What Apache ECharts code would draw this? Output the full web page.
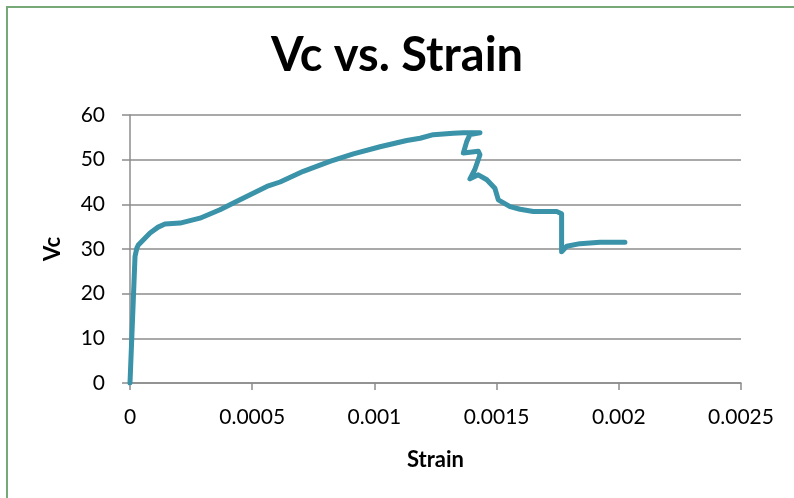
<!DOCTYPE html>
<html>
<head>
<meta charset="utf-8">
<script src="https://cdn.jsdelivr.net/npm/echarts@6/dist/echarts.min.js"></script>
<style>
  html, body { margin: 0; padding: 0; background: #fff; }
  #chart { width: 794px; height: 498px; }
</style>
</head>
<body>
<div id="chart"></div>
<script>
// values (strain, Vc)
const strain = [
  0, 0.0000135, 0.0000205, 0.000028, 0.000034, 0.000048, 0.000082, 0.000115,
  0.000143, 0.000205, 0.000286, 0.000368, 0.00045, 0.00056, 0.000614, 0.000709,
  0.000818, 0.000914, 0.001023, 0.001132, 0.001187, 0.001241, 0.001323, 0.001364,
  0.001432, 0.001391, 0.001378, 0.001364, 0.001425, 0.001432, 0.001411, 0.001391,
  0.001425, 0.00146, 0.001493, 0.001507, 0.001555, 0.001596, 0.00165, 0.001746,
  0.001766, 0.001766, 0.001787, 0.001841, 0.001923, 0.002025
]
const vc = [
  0, 18.6, 28.3, 30.2, 30.9, 31.7, 33.6, 34.9,
  35.6, 35.8, 36.9, 38.8, 41.0, 44.0, 45.0, 47.4,
  49.6, 51.3, 52.9, 54.3, 54.8, 55.6, 55.9, 56.0,
  56.0, 55.6, 54.1, 51.5, 51.9, 51.1, 47.8, 45.7,
  46.6, 45.5, 43.6, 41.0, 39.5, 38.9, 38.4, 38.4,
  37.9, 29.4, 30.6, 31.2, 31.5, 31.5
]
const xTicks = { min: 0, max: 0.0025, step: 0.0005 }
const yTicks = { min: 0, max: 60, step: 10 }

const FONT = 'Lato, "DejaVu Sans", sans-serif'
const chart = echarts.init(document.getElementById('chart'), null, { renderer: 'canvas' })

const points = strain.map((s, i) => [s, vc[i]])

chart.setOption({
  backgroundColor: '#ffffff',
  animation: false,
  title: {
    text: 'Vc vs. Strain',
    left: 'center',
    top: 27,
    textStyle: { fontFamily: FONT, fontSize: 47, fontWeight: 'bold', color: '#000' },
  },
  graphic: [
    {
      type: 'rect',
      shape: { x: 7, y: 7, width: 820, height: 520 },
      style: { fill: 'none', stroke: '#77a877', lineWidth: 2 },
      silent: true,
    },
  ],
  grid: { left: 130, right: 53, top: 115, bottom: 115 },
  xAxis: {
    type: 'value',
    min: xTicks.min,
    max: xTicks.max,
    interval: xTicks.step,
    name: 'Strain',
    nameLocation: 'middle',
    nameGap: 66,
    nameTextStyle: { fontFamily: FONT, fontSize: 22, fontWeight: 'bold', color: '#000' },
    axisLine: { show: true, lineStyle: { color: '#8c8c8c', width: 1.5 } },
    axisTick: { show: true, length: 7, lineStyle: { color: '#8c8c8c', width: 1.5 } },
    axisLabel: { fontFamily: FONT, fontSize: 21, color: '#000', margin: 24 },
    splitLine: { show: false },
  },
  yAxis: {
    type: 'value',
    min: yTicks.min,
    max: yTicks.max,
    interval: yTicks.step,
    name: 'Vc',
    nameLocation: 'middle',
    nameGap: 66,
    nameRotate: 90,
    nameTextStyle: { fontFamily: FONT, fontSize: 22, fontWeight: 'bold', color: '#000' },
    axisLine: { show: true, lineStyle: { color: '#8c8c8c', width: 1.5 } },
    axisTick: { show: true, length: 8, lineStyle: { color: '#8c8c8c', width: 1.5 } },
    axisLabel: { fontFamily: FONT, fontSize: 21, color: '#000', margin: 25 },
    splitLine: { show: true, lineStyle: { color: '#8c8c8c', width: 1.5 } },
  },
  series: [
    {
      type: 'line',
      data: points,
      showSymbol: false,
      smooth: false,
      lineStyle: { color: '#3a93a8', width: 5, join: 'round', cap: 'round' },
      itemStyle: { color: '#3a93a8' },
    },
  ],
})
</script>
</body>
</html>
